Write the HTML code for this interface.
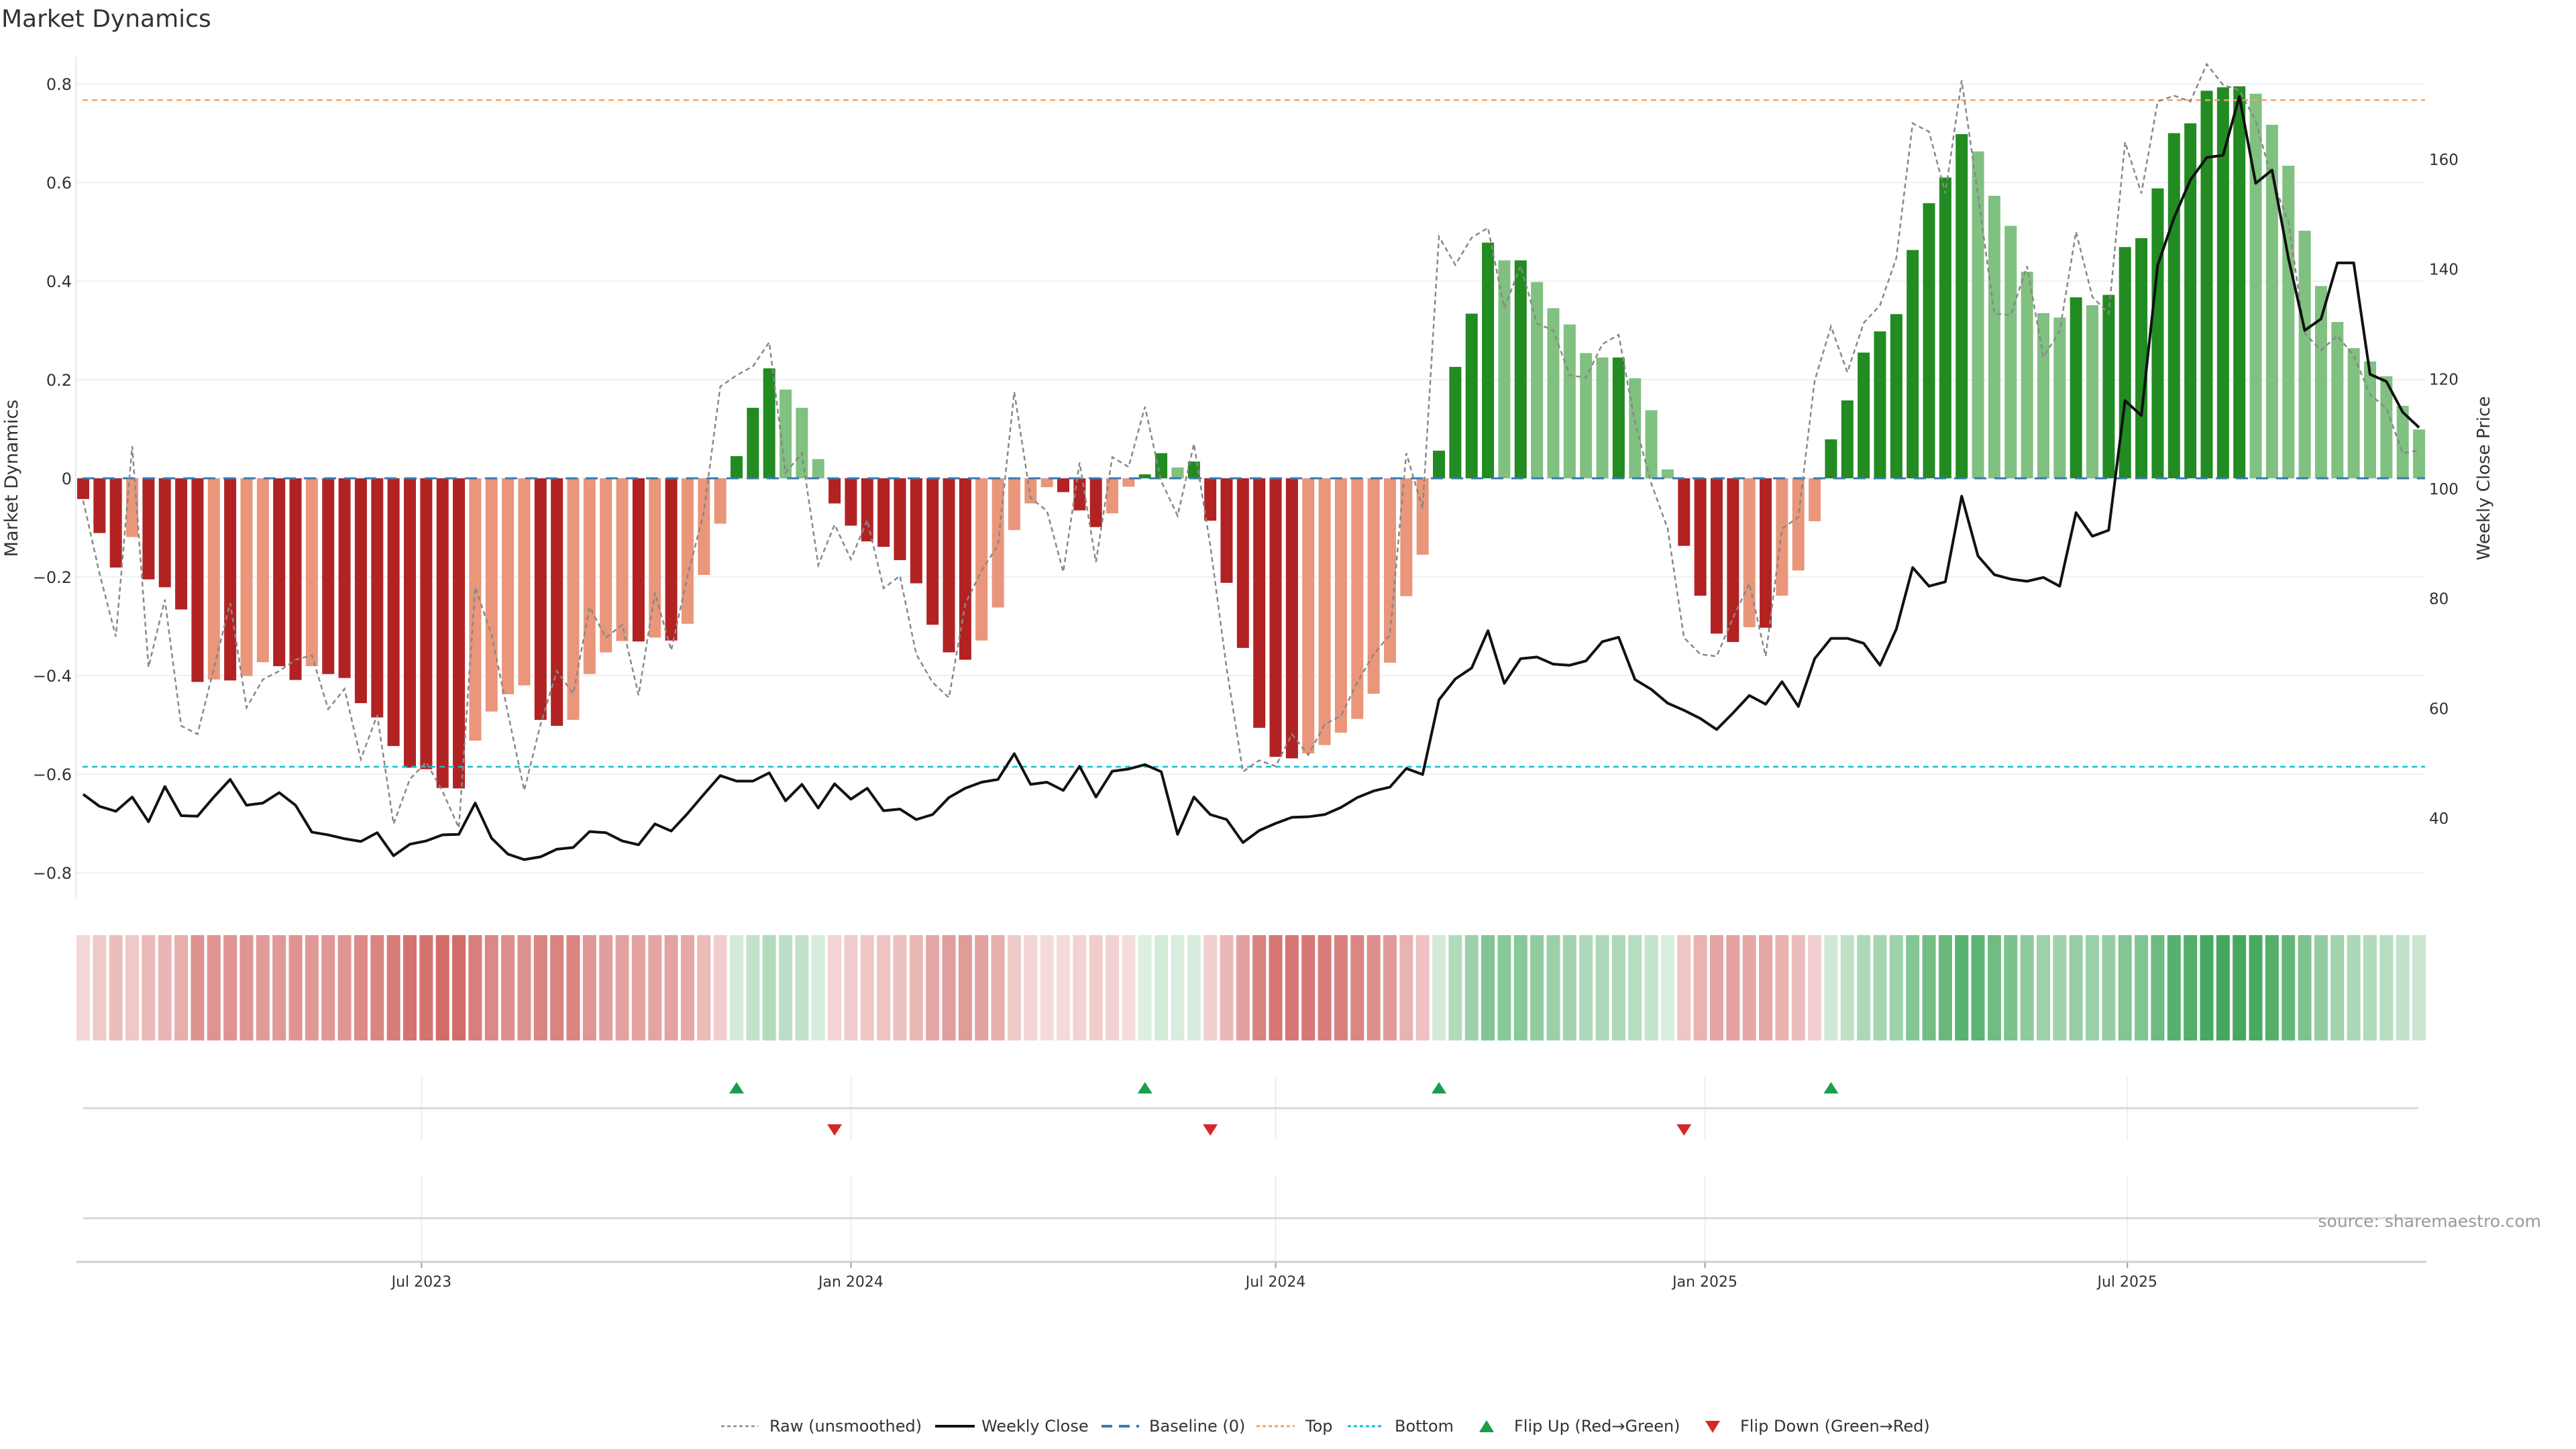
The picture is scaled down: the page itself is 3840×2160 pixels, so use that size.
<!DOCTYPE html>
<html><head><meta charset="utf-8"><title>Market Dynamics</title>
<style>
html,body{margin:0;padding:0;background:#fff;}
svg{display:block;font-family:"DejaVu Sans","Liberation Sans",sans-serif;}
</style></head>
<body>
<svg id="chart" xmlns="http://www.w3.org/2000/svg" width="3840" height="2160" viewBox="0 0 3840 2160">
<rect width="3840" height="2160" fill="#fff"/>
<text x="2" y="40" font-size="36" fill="#333">Market Dynamics</text>
<text transform="translate(26,713) rotate(-90)" text-anchor="middle" font-size="27" fill="#333">Market Dynamics</text>
<text transform="translate(3711,713) rotate(-90)" text-anchor="middle" font-size="26" fill="#333">Weekly Close Price</text>
<line x1="113" y1="85" x2="113" y2="1340" stroke="#e6e8ee" stroke-width="2"/>
<g id="grid"></g>
<g id="bars"></g>
<g id="lines"></g>
<g id="strip"></g>
<g id="flips"></g>
<g id="xaxis"></g>
<text x="3788" y="1829" text-anchor="end" font-size="25" fill="#999">source: sharemaestro.com</text>
<g id="legend"></g>
</svg>
<script>
const startDate = '2023-02-06';
const values = [-0.042,-0.111,-0.181,-0.119,-0.205,-0.221,-0.266,-0.413,-0.408,-0.410,-0.401,-0.373,-0.381,-0.409,-0.381,-0.397,-0.405,-0.456,-0.485,-0.543,-0.587,-0.590,-0.628,-0.629,-0.532,-0.473,-0.438,-0.420,-0.490,-0.502,-0.490,-0.397,-0.353,-0.330,-0.331,-0.323,-0.329,-0.295,-0.196,-0.092,
0.045,0.143,0.223,0.180,0.143,0.039,-0.051,-0.096,-0.128,-0.139,-0.166,-0.213,-0.297,-0.353,-0.368,-0.329,-0.262,-0.105,-0.051,-0.018,-0.028,-0.065,-0.099,-0.071,-0.017,0.008,0.051,0.022,0.034,-0.086,
-0.212,-0.344,-0.506,-0.565,-0.568,-0.558,-0.541,-0.516,-0.488,-0.437,-0.374,-0.239,-0.155,0.056,0.226,0.334,0.478,0.442,0.442,0.398,0.345,0.312,0.254,0.245,0.245,0.203,0.138,0.018,-0.137,-0.238,
-0.315,-0.332,-0.302,-0.303,-0.238,-0.187,-0.087,0.079,0.158,0.255,0.298,0.333,0.463,0.558,0.610,0.698,0.663,0.573,0.512,0.419,0.335,0.326,0.367,0.351,0.372,0.469,0.487,0.588,0.700,0.720,
0.786,0.793,0.795,0.780,0.717,0.634,0.502,0.390,0.317,0.264,0.237,0.207,0.147,0.099];
const closes = [44.4,42.2,41.3,43.9,39.4,45.8,40.5,40.4,43.9,47.1,42.4,42.8,44.7,42.4,37.5,37.0,36.3,35.8,37.4,33.2,35.3,35.9,37.0,37.1,42.8,36.4,33.5,32.5,33.0,34.4,34.7,37.6,37.4,35.9,35.2,39.0,37.7,40.9,44.4,47.8,
46.8,46.8,48.3,43.2,46.2,41.9,46.3,43.5,45.5,41.4,41.7,39.8,40.7,43.8,45.5,46.6,47.1,51.8,46.2,46.6,45.1,49.5,43.9,48.6,49.0,49.8,48.5,37.1,43.9,40.7,
39.8,35.6,37.8,39.1,40.2,40.3,40.7,42.0,43.8,45.0,45.7,49.1,48.0,61.6,65.4,67.4,74.2,64.6,69.1,69.4,68.1,67.9,68.7,72.2,73.0,65.3,63.5,61.0,59.7,58.2,
56.2,59.2,62.4,60.8,64.9,60.4,69.1,72.8,72.8,71.9,67.9,74.5,85.7,82.3,83.1,98.7,87.8,84.4,83.6,83.2,83.9,82.3,95.7,91.4,92.5,116.1,113.4,140.8,149.4,156.3,
160.4,160.8,171.5,155.7,158.1,142.1,128.9,131.0,141.2,141.2,120.9,119.6,114.0,111.2];
const raw = [-0.045,-0.193,-0.321,0.065,-0.383,-0.246,-0.502,-0.519,-0.385,-0.253,-0.465,-0.408,-0.391,-0.368,-0.359,-0.468,-0.427,-0.570,-0.480,-0.701,-0.610,-0.576,-0.635,-0.709,-0.221,-0.317,-0.476,-0.633,-0.499,-0.391,-0.437,-0.261,-0.323,-0.297,-0.440,-0.232,-0.349,-0.198,-0.068,0.186,
0.209,0.227,0.276,0.011,0.051,-0.176,-0.094,-0.164,-0.085,-0.223,-0.198,-0.357,-0.414,-0.445,-0.255,-0.187,-0.136,0.175,-0.040,-0.066,-0.190,0.032,-0.170,0.043,0.023,0.145,-0.006,-0.076,0.070,-0.136,
-0.385,-0.595,-0.572,-0.584,-0.519,-0.561,-0.499,-0.482,-0.414,-0.357,-0.317,0.051,-0.062,0.490,0.433,0.488,0.508,0.345,0.431,0.314,0.300,0.209,0.204,0.272,0.291,0.113,-0.011,-0.102,-0.323,-0.357,
-0.361,-0.283,-0.213,-0.361,-0.102,-0.079,0.198,0.308,0.215,0.315,0.351,0.447,0.720,0.703,0.578,0.807,0.573,0.334,0.331,0.430,0.246,0.298,0.500,0.368,0.334,0.682,0.578,0.764,0.776,0.764,
0.840,0.798,0.787,0.725,0.606,0.521,0.294,0.260,0.289,0.249,0.170,0.142,0.051,0.057];
const leftTicks = [0.8,0.6,0.4,0.2,0,-0.2,-0.4,-0.6,-0.8];
const leftTickLabels = ['0.8','0.6','0.4','0.2','0','−0.2','−0.4','−0.6','−0.8'];
const rightTicks = [40,60,80,100,120,140,160];
const dateTicks = ['2023-07-01','2024-01-01','2024-07-01','2025-01-01','2025-07-01'];
const dateTickLabels = ['Jul 2023','Jan 2024','Jul 2024','Jan 2025','Jul 2025'];
const topLevel = 0.767;
const bottomLevel = -0.585;

const NS='http://www.w3.org/2000/svg';
function mk(tag, parent, attrs){const e=document.createElementNS(NS,tag);for(const k in attrs)e.setAttribute(k,attrs[k]);parent.appendChild(e);return e;}
const X0=124, DX=24.35;
function xOf(i){return X0+i*DX;}
function xDate(s){const d=(Date.parse(s)-Date.parse(startDate))/86400000;return X0+d/7*DX;}
function yL(v){return 713-v*735;}
function yR(p){return 1220-(p-40)*8.183;}
const XL=113, XR=3615;

const grid=document.getElementById('grid');
leftTicks.forEach((t,i)=>{
  const l=mk('line',grid,{x1:XL,x2:XR,y1:yL(t),y2:yL(t),stroke:'#eef0f4','stroke-width':2});
  
  
  const tx=mk('text',grid,{x:107,y:yL(t)+9,'text-anchor':'end','font-size':24,fill:'#333'});
  tx.textContent=leftTickLabels[i];
  
  
});
rightTicks.forEach(t=>{
  const tx=mk('text',grid,{x:3621,y:yR(t)+8,'font-size':23,fill:'#333'});
  tx.textContent=String(t);
  
  
});

const bars=document.getElementById('bars');
values.forEach((v,i)=>{
  const prev=i>0?values[i-1]:0;
  const strong=(Math.sign(v)!==Math.sign(prev))||Math.abs(v)>=Math.abs(prev);
  const col=v>=0?(strong?'#228b22':'#80c080'):(strong?'#b22222':'#e9967a');
  const y0=yL(0),y1=yL(v);
  const r=mk('rect',bars,{x:xOf(i)-9,y:Math.min(y0,y1),width:18,height:Math.max(1,Math.abs(y1-y0)),fill:col});
  
  
});

const lines=document.getElementById('lines');
let e;
e=mk('line',lines,{x1:XL+10,x2:XR,y1:yL(topLevel),y2:yL(topLevel),stroke:'#f4a261','stroke-width':2.5,'stroke-dasharray':'8,6'});


e=mk('line',lines,{x1:XL+10,x2:XR,y1:yL(bottomLevel),y2:yL(bottomLevel),stroke:'#17becf','stroke-width':2.5,'stroke-dasharray':'8,6'});


e=mk('line',lines,{x1:XL+10,x2:XR,y1:yL(0),y2:yL(0),stroke:'#3a7ab0','stroke-width':3,'stroke-dasharray':'18,12'});


e=mk('polyline',lines,{points:raw.map((v,i)=>xOf(i)+','+yL(v)).join(' '),fill:'none',stroke:'#888','stroke-width':2.5,'stroke-dasharray':'7,5'});


e=mk('polyline',lines,{points:closes.map((p,i)=>xOf(i)+','+yR(p)).join(' '),fill:'none',stroke:'#111','stroke-width':4,'stroke-linejoin':'round'});



const strip=document.getElementById('strip');
values.forEach((v,i)=>{
  const a=Math.min(1,0.15+Math.abs(v)*0.85);
  const base=v>=0?[30,150,60]:[190,40,35];
  const c=base.map(b=>Math.round(255-(255-b)*a));
  const r=mk('rect',strip,{x:xOf(i)-10,y:1394,width:20,height:157,fill:'rgb('+c.join(',')+')'});
  
  
});

const flips=document.getElementById('flips');
const xa=document.getElementById('xaxis');
dateTicks.forEach((d,i)=>{
  const x=xDate(d);
  e=mk('line',flips,{x1:x,x2:x,y1:1606,y2:1700,stroke:'#eceef2','stroke-width':2});
  
  
  e=mk('line',flips,{x1:x,x2:x,y1:1753,y2:1880,stroke:'#eceef2','stroke-width':2});
  
  
  e=mk('line',xa,{x1:x,x2:x,y1:1881,y2:1890,stroke:'#999','stroke-width':2});
  
  
  const t=mk('text',xa,{x:x,y:1918,'text-anchor':'middle','font-size':22,fill:'#333'});
  t.textContent=dateTickLabels[i];
  
  
});
e=mk('line',flips,{x1:124,x2:3605,y1:1652,y2:1652,stroke:'#d8d8d8','stroke-width':3});


e=mk('line',flips,{x1:124,x2:3605,y1:1816,y2:1816,stroke:'#d8d8d8','stroke-width':3});


e=mk('line',xa,{x1:114,x2:3617,y1:1881,y2:1881,stroke:'#d0d0d0','stroke-width':3});


values.forEach((v,i)=>{
  if(i===0)return;
  const p=values[i-1], x=xOf(i);
  if(p<0&&v>=0){
    const t=mk('polygon',flips,{points:(x-11)+',1630 '+(x+11)+',1630 '+x+',1613',fill:'#1a9e4a'});
    
    
  } else if(p>=0&&v<0){
    const t=mk('polygon',flips,{points:(x-11)+',1676 '+(x+11)+',1676 '+x+',1693',fill:'#d62728'});
    
    
  }
});

const lg=document.getElementById('legend');
function ltext(x,s,name){const t=mk('text',lg,{x:x,y:2134,'font-size':24,fill:'#333'});t.textContent=s;}
e=mk('line',lg,{x1:1075,x2:1130,y1:2126,y2:2126,stroke:'#888','stroke-width':2.5,'stroke-dasharray':'5,4'});


ltext(1147,'Raw (unsmoothed)','legend-raw-label');
e=mk('line',lg,{x1:1394,x2:1453,y1:2126,y2:2126,stroke:'#111','stroke-width':4});


ltext(1463,'Weekly Close','legend-close-label');
e=mk('line',lg,{x1:1642,x2:1698,y1:2126,y2:2126,stroke:'#3a7ab0','stroke-width':4,'stroke-dasharray':'16,10'});


ltext(1713,'Baseline (0)','legend-baseline-label');
e=mk('line',lg,{x1:1873,x2:1930,y1:2126,y2:2126,stroke:'#f4a261','stroke-width':3,'stroke-dasharray':'5,4'});


ltext(1946,'Top','legend-top-label');
e=mk('line',lg,{x1:2009,x2:2063,y1:2126,y2:2126,stroke:'#17becf','stroke-width':3,'stroke-dasharray':'5,4'});


ltext(2079,'Bottom','legend-bottom-label');
e=mk('polygon',lg,{points:'2205,2135 2227,2135 2216,2117',fill:'#1a9e4a'});


ltext(2257,'Flip Up (Red→Green)','legend-flip-up-label');
e=mk('polygon',lg,{points:'2542,2118 2564,2118 2553,2136',fill:'#d62728'});


ltext(2594,'Flip Down (Green→Red)','legend-flip-down-label');
</script>
</body></html>
